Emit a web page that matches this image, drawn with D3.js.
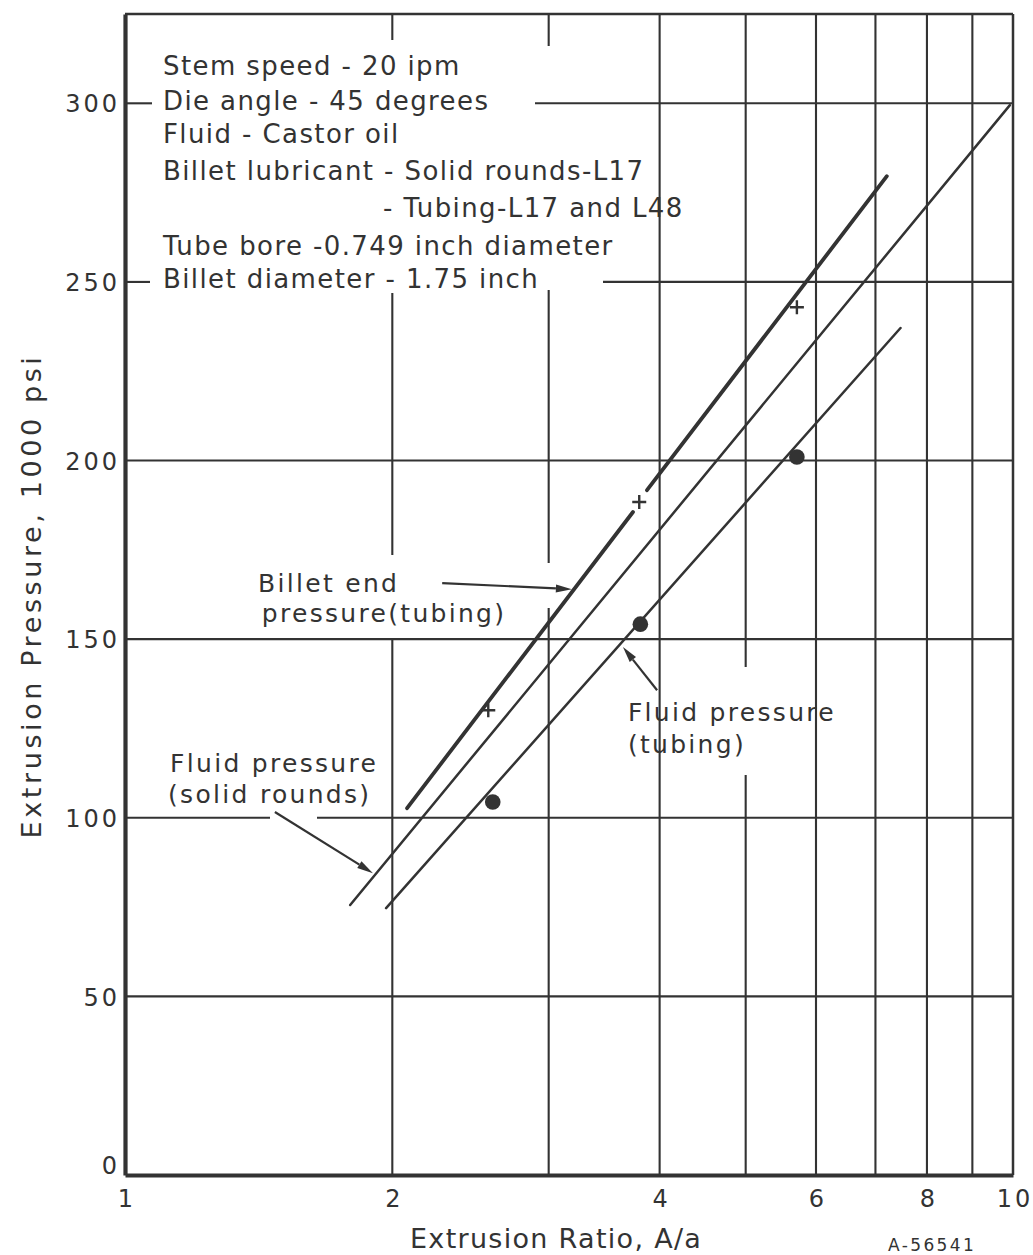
<!DOCTYPE html>
<html>
<head>
<meta charset="utf-8">
<script src="https://cdn.jsdelivr.net/npm/d3@7"></script>
<style>
  html, body { margin: 0; padding: 0; background: #fff; }
  svg { display: block; }
  text { font-family: "DejaVu Sans", sans-serif; fill: #333; }
</style>
</head>
<body>
<svg id="chart" width="1033" height="1255"></svg>
<script>
// ---------------- data ----------------
const xTickValues = [1, 2, 4, 6, 8, 10];
const xTickLabels = ["1", "2", "4", "6", "8", "10"];
const yTickValues = [0, 50, 100, 150, 200, 250, 300];
const yTickLabels = ["0", "50", "100", "150", "200", "250", "300"];
const xGridValues = [2, 3, 4, 5, 6, 7, 8, 9];
const yGridValues = [50, 100, 150, 200, 250, 300];

// measured points: billet end pressure (tubing) "+"
const billetEndX = [2.565, 3.794, 5.71];
const billetEndY = [130.1, 188.4, 242.9];
// measured points: fluid pressure (tubing) "•"
const fluidTubingX = [2.595, 3.805, 5.71];
const fluidTubingY = [104.4, 154.2, 201.0];

// fitted lines
const fitBilletEndX = [2.078, 3.733, 3.871, 7.21];   // drawn as two pieces (gap at the middle "+")
const fitBilletEndY = [102.7, 185.6, 191.7, 279.6];
const fitSolidX = [1.793, 9.92];
const fitSolidY = [75.6, 299.5];
const fitTubingX = [1.968, 7.47];
const fitTubingY = [74.7, 237.1];

const noteLines = [
  "Stem speed - 20 ipm",
  "Die angle - 45 degrees",
  "Fluid - Castor oil",
  "Billet lubricant - Solid rounds-L17",
  "- Tubing-L17 and L48",
  "Tube bore -0.749 inch diameter",
  "Billet diameter - 1.75 inch"
];

// annotation labels
const annoBilletEnd = ["Billet end", "pressure(tubing)"];
const annoFluidTubing = ["Fluid pressure", "(tubing)"];
const annoFluidSolid = ["Fluid pressure", "(solid rounds)"];

// ---------------- layout ----------------
const svg = d3.select("#chart");
const L = 125, R = 1013, T = 14, B = 1175;
const x = d3.scaleLog().domain([1, 10]).range([L, R]);
const y = d3.scaleLinear().domain([0, 325]).range([B, T]);
const ink = "#333";

// gaps in grid lines (pixel ranges where the drafted grid was interrupted by lettering)
const vGaps = { 2: [[40, 293], [555, 639]], 3: [[46, 290], [563, 608]], 5: [[667, 775]] };
const hGaps = { 300: [[152, 535]], 250: [[150, 603]], 100: [[270, 317]] };

function segments(a, b, gaps) {
  const out = [];
  let s = a;
  (gaps || []).forEach(g => { out.push([s, g[0]]); s = g[1]; });
  out.push([s, b]);
  return out;
}

const grid = svg.append("g").attr("stroke", ink).attr("stroke-width", 2.1).attr("fill", "none");
xGridValues.forEach(v => {
  segments(T, B, vGaps[v]).forEach(sg => {
    grid.append("line").attr("x1", x(v)).attr("x2", x(v)).attr("y1", sg[0]).attr("y2", sg[1]);
  });
});
yGridValues.forEach(v => {
  segments(L, R, hGaps[v]).forEach(sg => {
    grid.append("line").attr("y1", y(v)).attr("y2", y(v)).attr("x1", sg[0]).attr("x2", sg[1]);
  });
});

// border: top and right thinner, left and bottom heavier
svg.append("line").attr("x1", L).attr("x2", R).attr("y1", y(325)).attr("y2", y(325))
  .attr("stroke", ink).attr("stroke-width", 2.5);
svg.append("line").attr("x1", x(10)).attr("x2", x(10)).attr("y1", T).attr("y2", B)
  .attr("stroke", ink).attr("stroke-width", 2.5);

// axes via d3 axis generators (tick marks hidden; labels styled)
const xAxis = d3.axisBottom(x).tickValues(xTickValues).tickSize(0).tickPadding(0)
  .tickFormat((d, i) => xTickLabels[i]);
const gx = svg.append("g").attr("transform", `translate(0,${B})`).call(xAxis);
gx.select(".domain").attr("stroke", ink).attr("stroke-width", 3.8);
gx.selectAll(".tick text").attr("y", 32).attr("dy", 0)
  .style("font-size", "24px").style("letter-spacing", "3px").attr("fill", ink)
  .attr("dx", "1.5px");

const yAxis = d3.axisLeft(y).tickValues(yTickValues).tickSize(0).tickPadding(0)
  .tickFormat((d, i) => yTickLabels[i]);
const gy = svg.append("g").attr("transform", `translate(${L},0)`).call(yAxis);
gy.select(".domain").attr("stroke", ink).attr("stroke-width", 4.2);
gy.selectAll(".tick text").attr("x", -5).attr("dy", d => d === 0 ? "-0.05em" : "0.36em")
  .style("font-size", "24px").style("letter-spacing", "3px").attr("fill", ink);

// axis titles
svg.append("text").attr("x", 410).attr("y", 1248)
  .style("font-size", "27px").style("letter-spacing", "1.3px")
  .text("Extrusion Ratio, A/a");
svg.append("text").attr("transform", "translate(41,596) rotate(-90)")
  .attr("text-anchor", "middle")
  .style("font-size", "27px").style("letter-spacing", "3.6px")
  .text("Extrusion Pressure, 1000 psi");
svg.append("text").attr("x", 888).attr("y", 1251)
  .style("font-size", "17px").style("letter-spacing", "2.4px")
  .text("A-56541");

// notes block
const noteX = [163, 163, 163, 163, 383, 163, 163];
const noteY = [75, 110, 143, 180, 217, 255, 288];
noteLines.forEach((t, i) => {
  svg.append("text").attr("x", noteX[i]).attr("y", noteY[i])
    .style("font-size", "26px").style("letter-spacing", "1.4px").text(t);
});

// fitted lines
const line = d3.line().x(d => x(d[0])).y(d => y(d[1]));
const fitA1 = [[fitBilletEndX[0], fitBilletEndY[0]], [fitBilletEndX[1], fitBilletEndY[1]]];
const fitA2 = [[fitBilletEndX[2], fitBilletEndY[2]], [fitBilletEndX[3], fitBilletEndY[3]]];
[fitA1, fitA2].forEach(seg => {
  svg.append("path").attr("d", line(seg)).attr("fill", "none")
    .attr("stroke", ink).attr("stroke-width", 3.8).attr("stroke-linecap", "round");
});
svg.append("path").attr("d", line(fitSolidX.map((v, i) => [v, fitSolidY[i]])))
  .attr("fill", "none").attr("stroke", ink).attr("stroke-width", 2.5).attr("stroke-linecap", "round");
svg.append("path").attr("d", line(fitTubingX.map((v, i) => [v, fitTubingY[i]])))
  .attr("fill", "none").attr("stroke", ink).attr("stroke-width", 2.5).attr("stroke-linecap", "round");

// markers
billetEndX.forEach((v, i) => {
  const cx = x(v), cy = y(billetEndY[i]), s = 7;
  svg.append("path").attr("d", `M${cx - s},${cy}H${cx + s}M${cx},${cy - s}V${cy + s}`)
    .attr("stroke", ink).attr("stroke-width", 2.4).attr("fill", "none");
});
fluidTubingX.forEach((v, i) => {
  svg.append("circle").attr("cx", x(v)).attr("cy", y(fluidTubingY[i])).attr("r", 7.8).attr("fill", ink);
});

// arrows
function arrow(tail, tip) {
  const x1 = x(tail[0]), y1 = y(tail[1]), x2 = x(tip[0]), y2 = y(tip[1]);
  const ang = Math.atan2(y2 - y1, x2 - x1);
  const len = 16, hw = 4;
  const bx = x2 - len * Math.cos(ang), by = y2 - len * Math.sin(ang);
  const px = -Math.sin(ang) * hw, py = Math.cos(ang) * hw;
  svg.append("line").attr("x1", x1).attr("y1", y1).attr("x2", bx).attr("y2", by)
    .attr("stroke", ink).attr("stroke-width", 2.2);
  svg.append("path").attr("d", `M${x2},${y2}L${bx + px},${by + py}L${bx - px},${by - py}Z`).attr("fill", ink);
}
arrow([2.276, 165.7], [3.186, 164.0]);
arrow([3.974, 135.7], [3.637, 147.8]);
arrow([1.475, 101.6], [1.902, 84.5]);

// annotation text
function anno(lines, xs, ys) {
  lines.forEach((t, i) => {
    svg.append("text").attr("x", x(xs[i])).attr("y", y(ys[i]))
      .style("font-size", "25px").style("letter-spacing", "2.3px").text(t);
  });
}
anno(annoBilletEnd, [1.412, 1.426], [163.2, 154.8]);
anno(annoFluidTubing, [3.684, 3.684], [127.1, 118.1]);
anno(annoFluidSolid, [1.124, 1.118], [112.8, 104.1]);
</script>
</body>
</html>
